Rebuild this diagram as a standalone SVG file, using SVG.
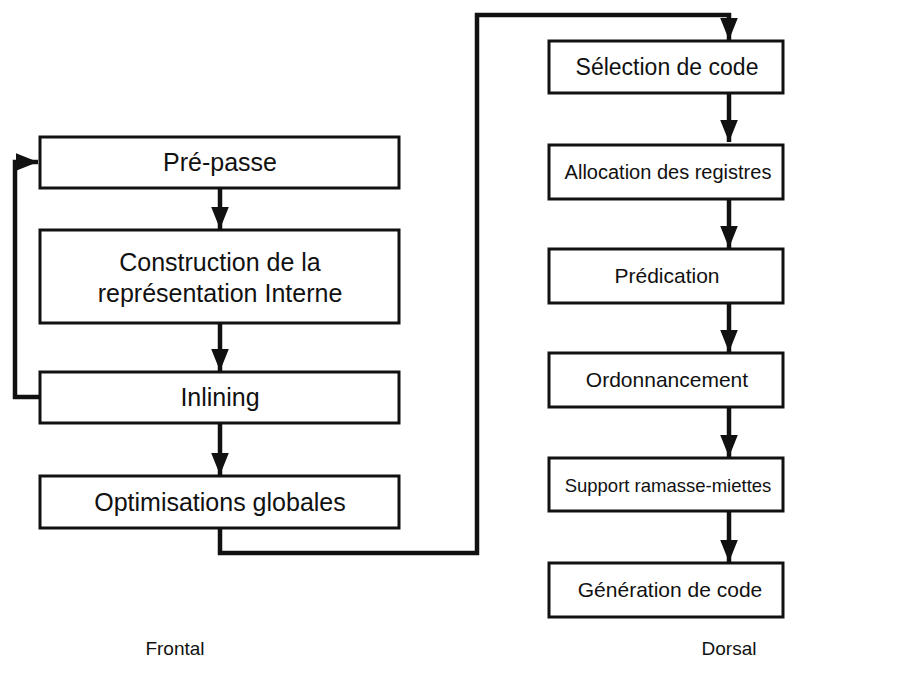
<svg xmlns="http://www.w3.org/2000/svg" width="903" height="673" viewBox="0 0 903 673">
<style>
.box{fill:#fff;stroke:#111;stroke-width:3}
.t{font-family:"Liberation Sans",Arial,sans-serif;font-size:25px;fill:#111;text-anchor:middle}
.r{font-family:"Liberation Sans",Arial,sans-serif;font-size:21px;fill:#111;text-anchor:middle}
.lbl{font-family:"Liberation Sans",Arial,sans-serif;font-size:19px;fill:#111;text-anchor:middle}
.c{fill:none;stroke:#111;stroke-width:4.5}
</style>
<defs>
<marker id="ah" markerWidth="5" markerHeight="4" refX="5" refY="2" orient="auto" markerUnits="strokeWidth">
<path d="M0,0 L5,2 L0,4 Z" fill="#111"/>
</marker>
</defs>
<rect width="903" height="673" fill="#fff"/>
<g id="connectors">
<path class="c" d="M40,397 H15 V162 H38" marker-end="url(#ah)"/>
<path class="c" d="M220,189 V229" marker-end="url(#ah)"/>
<path class="c" d="M220,324 V371" marker-end="url(#ah)"/>
<path class="c" d="M220,424 V475" marker-end="url(#ah)"/>
<path class="c" d="M220,529 V553 H477 V15 H729 V40" marker-end="url(#ah)"/>
<path class="c" d="M729,94 V142" marker-end="url(#ah)"/>
<path class="c" d="M729,200 V248" marker-end="url(#ah)"/>
<path class="c" d="M729,304 V352" marker-end="url(#ah)"/>
<path class="c" d="M729,408 V457" marker-end="url(#ah)"/>
<path class="c" d="M729,512 V562" marker-end="url(#ah)"/>
</g>
<g id="prepasse"><rect class="box" x="40" y="137" width="359" height="51"/><text class="t" x="220" y="171">Pré-passe</text></g>
<g id="construction"><rect class="box" x="40" y="230" width="359" height="93"/><text class="t" x="220" y="271">Construction de la</text><text class="t" x="220" y="302">représentation Interne</text></g>
<g id="inlining"><rect class="box" x="40" y="372" width="359" height="51"/><text class="t" x="220" y="406">Inlining</text></g>
<g id="optimisations"><rect class="box" x="40" y="476" width="359" height="52"/><text class="t" x="220" y="511">Optimisations globales</text></g>
<g id="selection"><rect class="box" x="549" y="41" width="234" height="52"/><text class="r" x="667" y="75" style="font-size:23px">Sélection de code</text></g>
<g id="allocation"><rect class="box" x="549" y="145" width="234" height="54"/><text class="r" x="668" y="179" style="font-size:20px">Allocation des registres</text></g>
<g id="predication"><rect class="box" x="549" y="249" width="234" height="54"/><text class="r" x="667" y="283">Prédication</text></g>
<g id="ordonnancement"><rect class="box" x="549" y="353" width="234" height="54"/><text class="r" x="667" y="387">Ordonnancement</text></g>
<g id="support"><rect class="box" x="549" y="458" width="234" height="53"/><text class="r" x="668" y="492" style="font-size:18.5px">Support ramasse-miettes</text></g>
<g id="generation"><rect class="box" x="549" y="563" width="234" height="54"/><text class="r" x="670" y="597">Génération de code</text></g>
<g id="labels"><text class="lbl" x="175" y="655">Frontal</text><text class="lbl" x="729" y="655">Dorsal</text></g>
</svg>
